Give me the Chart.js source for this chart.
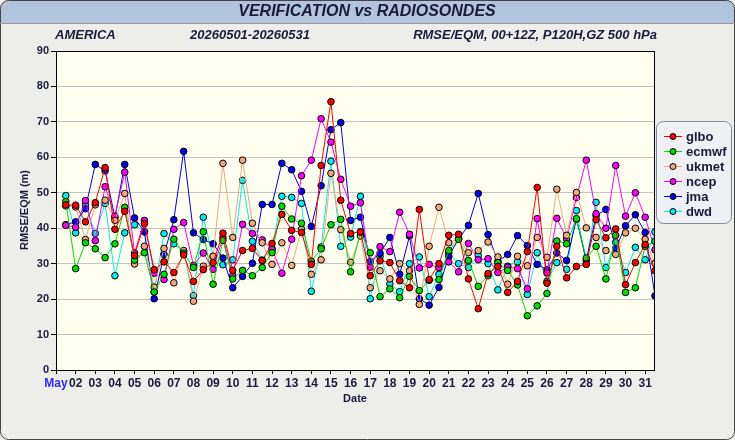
<!DOCTYPE html>
<html>
<head>
<meta charset="utf-8">
<script src="https://cdn.jsdelivr.net/npm/chart.js@4"></script>
<style>
  html, body { margin: 0; padding: 0; background: #ededea; }
  #c { display: block; }
</style>
</head>
<body>
<canvas id="c" width="735" height="440"></canvas>
<script>
// half-day steps: first value is 01 12Z, last is 31 12Z
const glbo  = [46.6,46.5,41.8,47.2,57.1,39.7,44.8,32.3,41.3,28.3,30.5,27.5,32.5,25.0,28.3,30.3,38.6,28.1,33.7,34.3,30.9,35.7,43.9,39.4,38.8,29.8,57.7,75.7,47.9,38.5,39.0,26.6,30.8,30.3,25.2,23.2,45.3,25.5,30.0,38.0,38.3,25.7,17.3,27.2,29.2,21.9,25.0,33.4,51.5,24.5,34.9,26.0,29.2,29.8,42.4,37.3,39.8,24.1,30.3,35.4,28.0];
const ecmwf = [47.5,28.6,35.9,34.2,31.7,35.6,45.9,31.0,33.1,22.0,27.0,36.9,33.0,28.9,39.0,24.2,36.6,25.7,28.1,26.6,28.9,33.1,46.2,42.6,41.4,30.7,34.2,41.0,42.5,27.7,38.9,33.1,20.7,22.9,20.4,26.4,22.4,25.3,25.5,33.7,36.9,30.9,23.6,26.6,30.3,28.1,24.0,15.3,18.1,21.6,36.4,35.6,42.7,31.6,34.9,25.7,38.0,21.9,23.2,34.9,36.3];
const ukmet = [46.3,46.0,36.8,46.6,47.9,42.2,49.8,29.9,34.9,23.4,34.3,24.6,33.7,19.4,29.3,32.1,58.3,37.4,59.2,41.4,35.9,29.8,35.9,29.5,39.7,27.0,31.1,55.5,39.6,30.4,37.8,23.2,28.0,25.7,30.0,28.0,18.5,34.9,45.9,35.9,37.0,33.1,33.7,36.1,31.9,24.2,32.1,29.4,37.4,31.8,51.0,38.0,50.1,40.1,37.4,33.7,32.6,38.7,40.0,36.9,30.1];
const ncep  = [40.8,40.3,47.8,36.5,51.7,43.4,55.8,33.0,42.2,27.3,25.5,39.7,41.6,29.5,33.0,28.4,37.4,26.6,41.1,38.5,36.7,34.0,27.3,36.9,54.8,59.2,70.9,64.3,53.8,46.2,47.2,29.0,34.8,33.4,44.5,38.3,28.8,29.8,28.9,30.5,27.7,35.7,31.1,31.4,27.5,29.0,28.6,22.9,42.7,27.4,42.8,37.0,48.6,59.2,44.1,40.0,57.7,43.4,50.0,43.1,33.9];
const jma   = [41.0,41.8,45.5,58.0,56.2,43.0,58.0,42.9,39.0,20.1,32.6,42.4,61.7,38.7,36.8,35.6,31.6,23.2,26.4,30.1,46.7,46.7,58.3,56.5,50.4,40.5,52.0,67.8,69.8,42.2,43.1,30.6,32.9,37.4,27.0,37.8,20.1,18.3,23.3,32.1,37.0,40.8,49.8,38.2,30.6,32.6,37.9,35.1,29.8,28.3,33.0,30.9,42.5,31.0,43.5,45.3,34.3,40.7,43.8,38.8,20.9];
const dwd   = [49.2,38.7,46.6,38.5,47.0,26.6,38.7,41.0,39.0,22.0,38.5,35.6,33.5,21.0,43.1,32.0,29.7,31.1,53.5,36.3,31.0,34.2,49.0,48.7,47.0,22.2,34.7,58.9,34.9,37.5,49.0,20.1,32.0,24.3,22.1,30.0,31.9,20.7,27.0,33.0,30.0,28.9,32.3,30.0,22.6,29.3,30.5,21.3,33.1,25.0,30.3,28.4,45.0,30.0,47.3,28.9,36.0,27.5,34.6,31.1,39.0];

const dayLabels = ['May','02','03','04','05','06','07','08','09','10','11','12','13','14','15','16',
                   '17','18','19','20','21','22','23','24','25','26','27','28','29','30','31'];

const seriesNames  = ['glbo','ecmwf','ukmet','ncep','jma','dwd'];
const seriesValues = [glbo, ecmwf, ukmet, ncep, jma, dwd];
const seriesColors = ['#ff0000','#00dd00','#f2a77c','#ff00ff','#0000ee','#00eeee'];

const textColor = '#1a1a3a';

// fond, cadre, titres et légende
const decor = {
    id: 'decor',
    beforeDraw(chart) {
        const ctx = chart.ctx;
        const a = chart.chartArea;
        ctx.save();
        ctx.fillStyle = '#ededea';
        ctx.fillRect(0, 0, 735, 440);
        // plot background
        ctx.fillStyle = '#fffff0';
        ctx.fillRect(a.left, a.top, a.right - a.left, a.bottom - a.top);
        ctx.restore();
    },
    afterDraw(chart) {
        const ctx = chart.ctx;
        const a = chart.chartArea;
        ctx.save();

        // plot border
        ctx.strokeStyle = '#000';
        ctx.lineWidth = 1;
        ctx.strokeRect(a.left + 0.5, a.top + 0.5, a.right - a.left - 1, a.bottom - a.top);

        // header band + outer frame
        ctx.beginPath();
        ctx.roundRect(0.5, 0.5, 734, 439, 8);
        ctx.save();
        ctx.clip();
        ctx.fillStyle = '#b0c4de';
        ctx.fillRect(0, 0, 735, 23);
        ctx.restore();
        ctx.strokeStyle = '#444';
        ctx.lineWidth = 1;
        ctx.stroke();
        ctx.beginPath();
        ctx.moveTo(0, 23.5);
        ctx.lineTo(735, 23.5);
        ctx.strokeStyle = '#999';
        ctx.stroke();

        ctx.fillStyle = textColor;
        ctx.textBaseline = 'middle';
        ctx.font = 'italic bold 16px "Liberation Sans", Arial, sans-serif';
        ctx.textAlign = 'center';
        ctx.fillText('VERIFICATION vs RADIOSONDES', 367, 12);

        ctx.font = 'italic bold 13px "Liberation Sans", Arial, sans-serif';
        ctx.textAlign = 'left';
        ctx.fillText('AMERICA', 55, 35);
        ctx.textAlign = 'center';
        ctx.fillText('20260501-20260531', 250, 35);
        ctx.textAlign = 'right';
        ctx.fillText('RMSE/EQM, 00+12Z, P120H,GZ 500 hPa', 657, 35);

        // axis titles
        ctx.font = 'bold 11px "Liberation Sans", Arial, sans-serif';
        ctx.textAlign = 'center';
        ctx.fillText('Date', 355, 399);
        ctx.save();
        ctx.translate(25, 210);
        ctx.rotate(-Math.PI / 2);
        ctx.fillText('RMSE/EQM (m)', 0, 0);
        ctx.restore();

        // legend
        ctx.beginPath();
        ctx.roundRect(656.5, 121.5, 75, 102, 7);
        ctx.fillStyle = '#eef0f4';
        ctx.fill();
        ctx.strokeStyle = '#7d8a9c';
        ctx.stroke();
        ctx.font = 'bold 13px "Liberation Sans", Arial, sans-serif';
        ctx.textAlign = 'left';
        seriesNames.forEach((name, k) => {
            const y = 136 + k * 15;
            ctx.strokeStyle = seriesColors[k];
            ctx.lineWidth = 1;
            ctx.beginPath();
            ctx.moveTo(664, y + 0.5);
            ctx.lineTo(682, y + 0.5);
            ctx.stroke();
            ctx.beginPath();
            ctx.arc(673, y + 0.5, 3, 0, Math.PI * 2);
            ctx.fillStyle = seriesColors[k];
            ctx.fill();
            ctx.strokeStyle = '#000';
            ctx.stroke();
            ctx.fillStyle = textColor;
            ctx.fillText(name, 686, y + 1);
        });
        ctx.restore();
    }
};

const datasets = seriesNames.map((name, k) => ({
    label: name,
    data: seriesValues[k].map((v, i) => ({ x: i + 1, y: v })),
    borderColor: seriesColors[k],
    backgroundColor: seriesColors[k],
    borderWidth: 1,
    pointRadius: 3.3,
    pointBorderColor: '#000',
    pointBorderWidth: 1,
    tension: 0
}));

new Chart(document.getElementById('c'), {
    type: 'line',
    data: { datasets: datasets },
    options: {
        responsive: false,
        animation: false,
        devicePixelRatio: 1,
        layout: { padding: { left: 0, top: 51, right: 80, bottom: 0 } },
        plugins: {
            legend: { display: false },
            tooltip: { enabled: false }
        },
        scales: {
            x: {
                type: 'linear',
                min: 0,
                max: 61,
                afterBuildTicks: scale => {
                    scale.ticks = dayLabels.map((d, j) => ({ value: j * 2 }));
                },
                afterFit: scale => { scale.height = 70; },
                border: { display: false },
                grid: { drawOnChartArea: false, tickLength: 4, tickColor: '#000' },
                ticks: {
                    autoSkip: false,
                    maxRotation: 0,
                    padding: 2,
                    font: { family: '"Liberation Sans", Arial, sans-serif', size: 12, weight: 'bold' },
                    color: ctx => ctx.index === 0 ? '#2a2aff' : textColor,
                    callback: (v, j) => dayLabels[j]
                }
            },
            y: {
                min: 0,
                max: 90,
                afterFit: scale => { scale.width = 56; },
                border: { display: false },
                grid: { color: '#c4c4c4', tickLength: 5, tickColor: '#000' },
                ticks: {
                    stepSize: 10,
                    padding: 2,
                    font: { family: '"Liberation Sans", Arial, sans-serif', size: 11, weight: 'bold' },
                    color: textColor
                }
            }
        }
    },
    plugins: [decor]
});
</script>
</body>
</html>
